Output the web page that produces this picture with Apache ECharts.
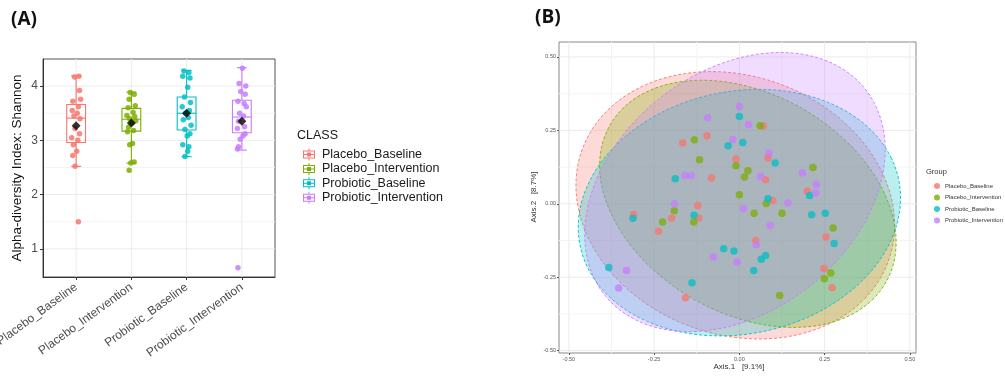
<!DOCTYPE html>
<html>
<head>
<meta charset="utf-8">
<script src="https://cdn.jsdelivr.net/npm/echarts@6/dist/echarts.min.js"></script>
<style>
html, body { margin: 0; padding: 0; background: #fff; }
#main { width: 1005px; height: 378px; }
</style>
</head>
<body>
<div id="main"></div>
<script>
var classes = ['Placebo_Baseline', 'Placebo_Intervention', 'Probiotic_Baseline', 'Probiotic_Intervention'];
var colors = ['#F8766D', '#7CAE00', '#00BFC4', '#C77CFF'];

// (A) alpha diversity, box stats: [lower whisker, q1, median, q3, upper whisker]
var boxStats = [
    [2.52, 2.96, 3.41, 3.66, 4.19],
    [2.58, 3.17, 3.39, 3.59, 3.89],
    [2.70, 3.19, 3.50, 3.80, 4.29],
    [2.82, 3.14, 3.43, 3.74, 4.34]
];
var shannonMeans = [3.27, 3.32, 3.50, 3.35];

// jittered sample points (value + horizontal jitter)
var pbVals = [4.18, 4.17, 3.92, 3.76, 3.72, 3.62, 3.55, 3.50, 3.45, 3.40, 3.22, 3.12, 3.05, 3.00, 2.92, 2.80, 2.72, 2.52, 1.50];
var pbJit  = [0.05, -0.03, 0.06, 0.08, -0.06, 0.04, -0.07, 0.02, -0.04, 0.07, -0.02, 0.06, -0.08, 0.03, -0.05, 0.01, -0.06, -0.02, 0.04];
var piVals = [3.88, 3.85, 3.76, 3.64, 3.60, 3.52, 3.46, 3.44, 3.40, 3.36, 3.32, 3.24, 3.18, 3.16, 2.94, 2.92, 2.60, 2.58, 2.45];
var piJit  = [-0.02, 0.05, -0.04, 0.07, -0.06, 0.03, -0.08, 0.06, -0.03, 0.08, 0.01, -0.05, 0.04, -0.07, 0.02, -0.03, 0.05, -0.01, -0.04];
var rbVals = [4.28, 4.25, 4.18, 4.15, 3.98, 3.80, 3.70, 3.62, 3.55, 3.50, 3.42, 3.38, 3.28, 3.20, 3.12, 3.08, 2.92, 2.88, 2.80, 2.70];
var rbJit  = [-0.05, 0.04, -0.07, 0.06, 0.02, -0.04, 0.07, -0.08, 0.05, -0.02, 0.03, -0.06, 0.08, -0.03, 0.06, 0.01, -0.07, 0.04, 0.02, -0.03];
var riVals = [4.33, 4.05, 4.00, 3.90, 3.85, 3.72, 3.68, 3.62, 3.50, 3.45, 3.35, 3.25, 3.22, 3.12, 3.08, 3.02, 2.88, 2.84, 0.65];
var riJit  = [0.01, -0.05, 0.07, -0.02, 0.06, -0.07, 0.04, 0.08, -0.04, 0.03, -0.06, 0.05, -0.08, 0.06, 0.02, -0.03, -0.06, -0.08, -0.07];

var jitVals = [pbVals, piVals, rbVals, riVals];
var jitOffs = [pbJit, piJit, rbJit, riJit];

// (B) PCoA coordinates [Axis.1, Axis.2]
var pcoaPB = [[-0.166, 0.207], [-0.095, 0.232], [0.070, 0.265], [-0.010, 0.153], [0.084, 0.156], [-0.082, 0.088],
    [0.077, 0.082], [0.199, 0.043], [0.098, 0.011], [-0.122, -0.006], [-0.119, -0.048], [-0.199, -0.049],
    [-0.310, -0.036], [-0.237, -0.093], [0.048, -0.125], [0.254, -0.113], [0.248, -0.220], [0.272, -0.286], [-0.158, -0.320]];
var pcoaPI = [[-0.132, 0.218], [-0.117, 0.150], [0.061, 0.266], [-0.010, 0.130], [0.025, 0.113], [0.015, 0.091],
    [0.216, 0.124], [0.000, 0.031], [0.079, 0.001], [0.043, -0.032], [0.125, -0.032], [-0.191, -0.024],
    [-0.225, -0.062], [-0.134, -0.062], [0.275, -0.082], [0.249, -0.255], [0.268, -0.236], [0.118, -0.312]];
var pcoaRB = [[0.000, 0.297], [-0.033, 0.198], [0.010, 0.209], [0.105, 0.139], [-0.188, 0.085], [0.084, 0.017],
    [0.206, 0.028], [0.212, -0.037], [0.252, -0.032], [0.278, -0.135], [-0.312, -0.049], [-0.133, -0.039],
    [-0.046, -0.153], [-0.016, -0.161], [0.064, -0.189], [0.077, -0.176], [0.042, -0.227], [-0.139, -0.269], [-0.383, -0.217]];
var pcoaRI = [[0.000, 0.331], [-0.093, 0.293], [0.027, 0.269], [-0.019, 0.219], [0.087, 0.173], [-0.160, 0.096],
    [-0.141, 0.096], [0.063, 0.093], [0.185, 0.105], [0.226, 0.066], [0.224, 0.037], [-0.190, 0.000],
    [0.012, -0.017], [0.142, 0.003], [0.090, -0.074], [0.050, -0.139], [-0.076, -0.181], [-0.007, -0.198],
    [-0.331, -0.227], [-0.354, -0.287]];
var pcoaSets = [pcoaPB, pcoaPI, pcoaRB, pcoaRI];

// confidence ellipses: [centre x, centre y, semi-major, semi-minor, angle deg]
var ellipses = [
    [-0.012, -0.005, 0.495, 0.425, -40],
    [0.025, 0.000, 0.490, 0.355, -42],
    [0.000, -0.030, 0.483, 0.408, 22.5],
    [-0.013, 0.040, 0.525, 0.380, 52]
];

var aTicks = [1, 2, 3, 4];
var aMinor = [1.5, 2.5, 3.5];
var bTicks = [-0.5, -0.25, 0, 0.25, 0.5];
var bMinor = [-0.375, -0.125, 0.125, 0.375];

var A_X = [0.4, 4.6], A_Y = [0.48, 4.5];
var B_X = [-0.529, 0.518], B_Y = [-0.508, 0.551];

function rgba(hex, a) {
    var n = parseInt(hex.slice(1), 16);
    return 'rgba(' + (n >> 16) + ',' + ((n >> 8) & 255) + ',' + (n & 255) + ',' + a + ')';
}

// grid lines through the axes' own scale
function gridLines(idx, xs, ys, xr, yr, color) {
    var data = [];
    xs.forEach(function (v) { data.push([0, v]); });
    ys.forEach(function (v) { data.push([1, v]); });
    return {
        type: 'custom', xAxisIndex: idx, yAxisIndex: idx, silent: true, z: 0,
        data: data,
        renderItem: function (params, api) {
            var o = api.value(0), v = api.value(1), p1, p2;
            if (o === 0) { p1 = api.coord([v, yr[0]]); p2 = api.coord([v, yr[1]]); }
            else { p1 = api.coord([xr[0], v]); p2 = api.coord([xr[1], v]); }
            return { type: 'line', shape: { x1: p1[0], y1: p1[1], x2: p2[0], y2: p2[1] },
                style: { stroke: color, lineWidth: 1 } };
        }
    };
}

var series = [];
series.push(gridLines(0, aTicks, aTicks, A_X, A_Y, '#EBEBEB'));
series.push(gridLines(0, [], aMinor, A_X, A_Y, '#F3F3F3'));
series.push(gridLines(1, bTicks, bTicks, B_X, B_Y, '#EBEBEB'));
series.push(gridLines(1, bMinor, bMinor, B_X, B_Y, '#F4F4F4'));

// (A) boxes
classes.forEach(function (c, i) {
    series.push({
        type: 'custom', name: c, xAxisIndex: 0, yAxisIndex: 0, z: 2,
        itemStyle: { color: colors[i] },
        data: [[i + 1].concat(boxStats[i])],
        encode: { x: 0, y: [1, 2, 3, 4, 5] },
        renderItem: function (params, api) {
            var x = api.value(0), lo = api.value(1), q1 = api.value(2), md = api.value(3), q3 = api.value(4), hi = api.value(5);
            var hw = 0.17, cw = 0.09;
            var tl = api.coord([x - hw, q3]), br = api.coord([x + hw, q1]);
            var mL = api.coord([x - hw, md]), mR = api.coord([x + hw, md]);
            var wT = api.coord([x, hi]), wB = api.coord([x, lo]), bT = api.coord([x, q3]), bB = api.coord([x, q1]);
            var cT1 = api.coord([x - cw, hi]), cT2 = api.coord([x + cw, hi]);
            var cB1 = api.coord([x - cw, lo]), cB2 = api.coord([x + cw, lo]);
            var st = { stroke: colors[i], lineWidth: 1.1, fill: null };
            function ln(a, b) { return { type: 'line', shape: { x1: a[0], y1: a[1], x2: b[0], y2: b[1] }, style: st }; }
            return { type: 'group', children: [
                ln(bT, wT), ln(bB, wB), ln(cT1, cT2), ln(cB1, cB2),
                { type: 'rect', shape: { x: tl[0], y: tl[1], width: br[0] - tl[0], height: br[1] - tl[1] }, style: st },
                ln(mL, mR)
            ] };
        }
    });
});

// (A) jitter points
classes.forEach(function (c, i) {
    series.push({
        type: 'scatter', name: c, xAxisIndex: 0, yAxisIndex: 0, z: 3,
        symbolSize: 5.5, itemStyle: { color: colors[i], opacity: 0.85 },
        data: jitVals[i].map(function (v, k) { return [i + 1 + jitOffs[i][k], v]; })
    });
});

// (A) means
series.push({
    type: 'scatter', name: 'mean', xAxisIndex: 0, yAxisIndex: 0, z: 4,
    symbol: 'diamond', symbolSize: [9, 9], itemStyle: { color: '#000' },
    data: shannonMeans.map(function (v, i) { return [i + 1, v]; })
});

// (B) ellipses
classes.forEach(function (c, i) {
    series.push({
        type: 'custom', name: c, xAxisIndex: 1, yAxisIndex: 1, z: 1, silent: true,
        itemStyle: { color: colors[i] },
        data: [ellipses[i]],
        encode: { x: 0, y: 1 },
        renderItem: function (params, api) {
            var cx = api.value(0), cy = api.value(1), a = api.value(2), b = api.value(3);
            var t = api.value(4) * Math.PI / 180, pts = [];
            for (var k = 0; k < 120; k++) {
                var s = k / 120 * 2 * Math.PI;
                var ex = a * Math.cos(s), ey = b * Math.sin(s);
                pts.push(api.coord([cx + ex * Math.cos(t) - ey * Math.sin(t), cy + ex * Math.sin(t) + ey * Math.cos(t)]));
            }
            return { type: 'polygon', shape: { points: pts },
                style: { fill: rgba(colors[i], 0.27), stroke: colors[i], lineWidth: 0.9, lineDash: [3, 2] } };
        }
    });
});

// (B) points
classes.forEach(function (c, i) {
    series.push({
        type: 'scatter', name: c, xAxisIndex: 1, yAxisIndex: 1, z: 3,
        symbolSize: 7.5, itemStyle: { color: colors[i], opacity: 0.75 },
        data: pcoaSets[i]
    });
});

var boxIcon = 'path://M2,2H14V3H2Z M2,9H14V10H2Z M2,2H3V10H2Z M13,2H14V10H13Z M2,5.5H14V6.5H2Z M7.5,0H8.5V2H7.5Z M7.5,10H8.5V12H7.5Z M6,4H10V8H6Z';

var myChart = echarts.init(document.getElementById('main'));
var option = {
    animation: false,
    backgroundColor: '#fff',
    grid: [
        { left: 43, top: 59, width: 232, height: 218, show: true, borderColor: '#555', borderWidth: 1,
            backgroundColor: '#fff', containLabel: false, outerBoundsMode: 'none' },
        { left: 559, top: 42, width: 357, height: 311, show: true, borderColor: '#888', borderWidth: 1,
            backgroundColor: '#fff', containLabel: false, outerBoundsMode: 'none' }
    ],
    xAxis: [
        {
            type: 'value', gridIndex: 0, min: A_X[0], max: A_X[1],
            axisLine: { show: true, onZero: false, lineStyle: { color: '#333' } },
            axisTick: { show: true, customValues: aTicks, length: 3, lineStyle: { color: '#333' } },
            axisLabel: { customValues: aTicks, rotate: 36, margin: 9, fontSize: 12, color: '#4D4D4D',
                fontFamily: 'Liberation Sans, Arial, sans-serif',
                formatter: function (v) { return classes[Math.round(v) - 1] || ''; } },
            splitLine: { show: false }
        },
        {
            type: 'value', gridIndex: 1, min: B_X[0], max: B_X[1],
            axisLine: { show: false, onZero: false },
            axisTick: { show: true, customValues: bTicks, length: 2, lineStyle: { color: '#555' } },
            axisLabel: { customValues: bTicks, fontSize: 5.5, color: '#555', margin: 3,
                formatter: function (v) { return v.toFixed(2); } },
            splitLine: { show: false }
        }
    ],
    yAxis: [
        {
            type: 'value', gridIndex: 0, min: A_Y[0], max: A_Y[1],
            axisLine: { show: true, onZero: false, lineStyle: { color: '#333' } },
            axisTick: { show: true, customValues: aTicks, length: 3, lineStyle: { color: '#333' } },
            axisLabel: { customValues: aTicks, fontSize: 12, color: '#4D4D4D', margin: 5,
                fontFamily: 'Liberation Sans, Arial, sans-serif' },
            splitLine: { show: false }
        },
        {
            type: 'value', gridIndex: 1, min: B_Y[0], max: B_Y[1],
            axisLine: { show: false, onZero: false },
            axisTick: { show: true, customValues: bTicks, length: 2, lineStyle: { color: '#555' } },
            axisLabel: { customValues: bTicks, fontSize: 5.5, color: '#555', margin: 3,
                formatter: function (v) { return v.toFixed(2); } },
            splitLine: { show: false }
        }
    ],
    legend: [
        {
            orient: 'vertical', left: 298, top: 143, itemWidth: 16, itemHeight: 12, itemGap: 1.4,
            selectedMode: false,
            textStyle: { fontSize: 12.5, color: '#1A1A1A', fontFamily: 'Liberation Sans, Arial, sans-serif' },
            data: classes.map(function (c, i) { return { name: c, icon: boxIcon, itemStyle: { color: colors[i] } }; })
        },
        {
            orient: 'vertical', left: 929, top: 178, itemWidth: 6, itemHeight: 6, itemGap: 5.5,
            selectedMode: false,
            textStyle: { fontSize: 6, color: '#333' },
            data: classes.map(function (c, i) { return { name: c, icon: 'circle', itemStyle: { color: colors[i], opacity: 0.8 } }; })
        }
    ],
    graphic: [
        { type: 'text', left: 11, top: 10, style: { text: '(A)', fontSize: 19, fontWeight: 'bold', fill: '#111', fontFamily: 'Open Sans, Liberation Sans, sans-serif' } },
        { type: 'text', left: 535, top: 8, style: { text: '(B)', fontSize: 19, fontWeight: 'bold', fill: '#111', fontFamily: 'Open Sans, Liberation Sans, sans-serif' } },
        { type: 'text', x: 17, y: 168, rotation: Math.PI / 2,
            style: { text: 'Alpha-diversity Index: Shannon', fontSize: 13.5, fill: '#111', align: 'center', verticalAlign: 'middle',
                fontFamily: 'Liberation Sans, Arial, sans-serif' } },
        { type: 'text', x: 297, y: 136, style: { text: 'CLASS', fontSize: 12.5, fill: '#1A1A1A', verticalAlign: 'middle',
                fontFamily: 'Liberation Sans, Arial, sans-serif' } },
        { type: 'text', x: 739, y: 367, style: { text: 'Axis.1   [9.1%]', fontSize: 8, fill: '#333', align: 'center', verticalAlign: 'middle' } },
        { type: 'text', x: 534, y: 197, rotation: Math.PI / 2,
            style: { text: 'Axis.2   [8.7%]', fontSize: 8, fill: '#333', align: 'center', verticalAlign: 'middle' } },
        { type: 'text', x: 926, y: 172, style: { text: 'Group', fontSize: 7.5, fill: '#333', verticalAlign: 'middle' } }
    ],
    series: series
};
myChart.setOption(option);
</script>
</body>
</html>
